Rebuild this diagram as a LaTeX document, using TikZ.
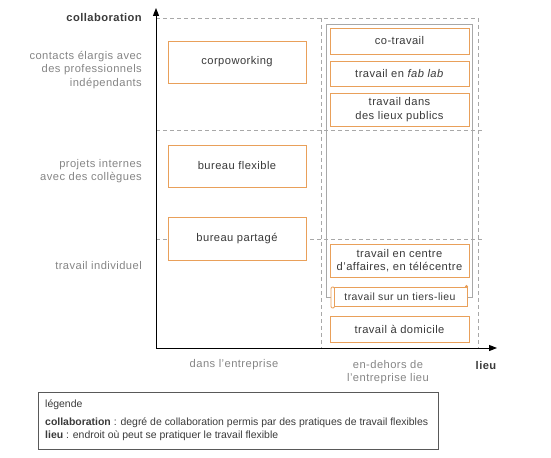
\documentclass[tikz,border=0pt]{standalone}
\usepackage{fontspec}
\setmainfont{Liberation Sans}[LetterSpace=4]
\newfontfamily\legfont{Liberation Sans}
\usetikzlibrary{arrows.meta}
\definecolor{orangec}{HTML}{E9A05A}
\definecolor{dashc}{HTML}{A8A8A8}
\definecolor{labc}{HTML}{858585}
\definecolor{textc}{HTML}{3A3A3A}
\begin{document}
\begin{tikzpicture}[x=1bp,y=-1bp,
  every node/.style={font=\fontsize{11.2}{13.3}\selectfont},
  box/.style={draw=orangec, line width=0.8bp, fill=white, align=center, text=textc, inner sep=0pt},
  axlab/.style={text=labc, align=right, anchor=east, inner sep=0pt},
  botlab/.style={text=labc, align=center, inner sep=0pt},
  grid/.style={draw=dashc, line width=0.6bp, dash pattern=on 4bp off 3bp},
  axis/.style={draw=black, line width=1bp, -{Triangle[length=8bp,width=6bp]}},
  legtext/.style={font=\legfont\fontsize{10.5}{13}\selectfont, text=textc, align=left, anchor=north west, inner sep=0pt}]
\useasboundingbox (0,0) rectangle (551,458);
% grid
\coordinate (o) at (156,348);
\draw[grid] (156,18) -- (478,18);
\draw[grid] (156,130) -- (485,130);
\draw[grid] (156,239) -- (485,239);
\draw[grid] (321,18) -- (321,348);
\draw[grid] (478,18) -- (478,348);
% inner gray rectangle
\draw[draw=dashc, line width=0.8bp] (326,24) rectangle (472,297);
% axes
\coordinate (ytop) at (156,8);
\coordinate (xend) at (497,348);
\draw[axis] (o) -- (ytop);
\draw[axis] (o) -- (xend);
% boxes
\node[box, minimum width=138bp, minimum height=42bp] (corpo) at (237,62) {corpoworking};
\node[box, minimum width=138bp, minimum height=42bp] (flex) at (237,166) {bureau flexible};
\node[box, minimum width=138bp, minimum height=43bp] (part) at (237,238.5) {bureau partagé};
\node[box, minimum width=139bp, minimum height=26bp] (cotr) at (399.5,41) {co-travail};
\node[box, minimum width=139bp, minimum height=25bp] (fab) at (399.5,73.5) {travail en \textit{fab lab}};
\node[box, minimum width=139bp, minimum height=33bp] (pub) at (399.5,109.5) {travail dans\\des lieux publics};
\node[box, minimum width=139bp, minimum height=33bp] (aff) at (399.5,260.5) {travail en centre\\d'affaires, en télécentre};
\node[box, minimum width=134bp, minimum height=19bp, font=\fontsize{10.5}{12}\selectfont] (tiers) at (400,296.5) {travail sur un tiers-lieu};
\draw[draw=orangec, line width=0.8bp, fill=white, rounded corners=1.2bp] (331,287) rectangle (334.5,308);
\fill[orangec] (466.5,286.5) circle (1.6bp);
\node[box, minimum width=139bp, minimum height=26bp] (dom) at (399.5,329) {travail à domicile};
% axis labels
\node[axlab, text=textc, font=\fontsize{11.2}{13.3}\selectfont\bfseries] (lcol) at (142,18) {collaboration};
\node[axlab] (l1) at (142,70) {contacts élargis avec\\des professionnels\\indépendants};
\node[axlab] (l2) at (142,171) {projets internes\\avec des collègues};
\node[axlab] (l3) at (142,266) {travail individuel};
\node[botlab] (b1) at (234,365) {dans l'entreprise};
\node[botlab] (b2) at (388,372) {en-dehors de\\l'entreprise lieu};
\node[botlab, text=textc, font=\fontsize{11.2}{13.3}\selectfont\bfseries] (blieu) at (486,366) {lieu};
% legend
\node[draw=black!65, line width=0.7bp, minimum width=400bp, minimum height=57bp, inner sep=0pt] (leg) at (238,420.5) {};
\node[legtext] (lg) at (45,400) {légende\\[4.5bp]\textbf{collaboration} : degré de collaboration permis par des pratiques de travail flexibles\\\textbf{lieu} : endroit où peut se pratiquer le travail flexible};
\end{tikzpicture}
\end{document}
